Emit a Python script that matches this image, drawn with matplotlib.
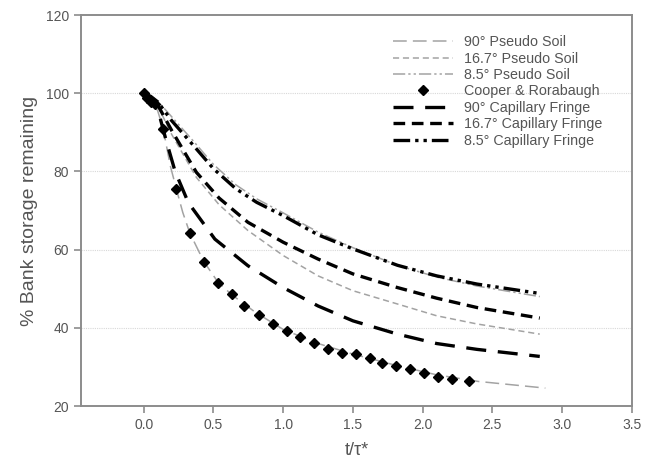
import matplotlib
matplotlib.use("Agg")
import matplotlib.pyplot as plt

plt.rcParams["font.family"] = ["Liberation Sans", "DejaVu Sans"]

# ---- data ----
x_ps90 = [0, 0.05, 0.1, 0.139, 0.19, 0.234, 0.28, 0.33, 0.43, 0.53, 0.63, 0.8,
          1.0, 1.25, 1.5, 1.8, 2.1, 2.4, 2.88]
y_ps90 = [100, 98.6, 95.5, 91, 81.5, 75.5, 69.5, 64.3, 57, 51.8, 48.5, 44,
          39.6, 36, 33.3, 30.5, 28, 26.3, 24.6]

x_cf90 = [0, 0.05, 0.1, 0.16, 0.225, 0.32, 0.51, 0.747, 1.0, 1.25, 1.5, 1.82,
          2.1, 2.39, 2.84]
y_cf90 = [100, 98.8, 96, 88, 80, 72, 62.7, 55.9, 50.3, 45.6, 41.8, 38.4,
          36.0, 34.5, 32.7]

x_cf167 = [0, 0.05, 0.1, 0.2, 0.377, 0.54, 0.747, 1.0, 1.25, 1.5, 1.82, 2.1,
           2.39, 2.84]
y_cf167 = [100, 99, 97, 90.5, 79.8, 73.2, 67, 61.9, 57.6, 53.8, 50.3, 47.6,
           45.2, 42.5]

x_ps167 = [0, 0.05, 0.1, 0.2, 0.377, 0.54, 0.747, 1.0, 1.25, 1.5, 1.82, 2.1,
           2.39, 2.84]
y_ps167 = [100, 99, 96.8, 89.5, 78.5, 71.5, 64.9, 58.5, 53.3, 49.5, 46.1, 43.1,
           41.0, 38.4]

x_cf85 = [0, 0.05, 0.1, 0.2, 0.355, 0.5, 0.66, 0.81, 1.0, 1.25, 1.5, 1.82, 2.1,
          2.39, 2.84]
y_cf85 = [100, 99.2, 97.8, 93, 86.7, 80.7, 75.6, 72.1, 68.7, 63.8, 60.2, 56,
          53.3, 51.2, 48.8]

x_ps85 = [0, 0.05, 0.1, 0.2, 0.355, 0.5, 0.66, 0.81, 1.0, 1.25, 1.5, 1.82, 2.1,
          2.39, 2.84]
y_ps85 = [100, 99.3, 98, 94, 87.8, 81.8, 76.6, 73, 69.4, 64.5, 60.5, 56,
          53, 50.7, 48.0]

x_cooper = [0, 0.024, 0.055, 0.08, 0.139, 0.234, 0.33, 0.43, 0.53, 0.63, 0.72,
            0.83, 0.93, 1.03, 1.12, 1.22, 1.32, 1.42, 1.52, 1.62, 1.71, 1.81,
            1.91, 2.01, 2.11, 2.21, 2.33]
y_cooper = [100, 98.8, 97.8, 97.2, 90.9, 75.6, 64.2, 56.8, 51.4, 48.6, 45.6,
            43.2, 40.9, 39.1, 37.6, 36.1, 34.6, 33.7, 33.3, 32.2, 31.1, 30.3,
            29.4, 28.5, 27.5, 27.0, 26.4]

GRAY = "#a3a3a3"
AXC = "#8c8c8c"
TXT = "#555555"

fig = plt.figure(figsize=(6.48, 4.70), dpi=100)
ax = fig.add_axes([0.125, 0.136, 0.850, 0.832])

ax.plot(x_ps90, y_ps90, color=GRAY, lw=1.1, dashes=(9, 4), label="90° Pseudo Soil")
ax.plot(x_ps167, y_ps167, color=GRAY, lw=1.1, dashes=(4, 2.5), label="16.7° Pseudo Soil")
ax.plot(x_ps85, y_ps85, color=GRAY, lw=1.1, dashes=(8, 2, 1.5, 2, 1.5, 2),
        label="8.5° Pseudo Soil")
ax.plot(x_cooper, y_cooper, ls="none", marker="D", ms=4.8, color="black",
        label="Cooper & Rorabaugh")
ax.plot(x_cf90, y_cf90, color="black", lw=2.4, dashes=(6, 3.5), label="90° Capillary Fringe")
ax.plot(x_cf167, y_cf167, color="black", lw=2.4, dashes=(3.5, 2),
        label="16.7° Capillary Fringe")
ax.plot(x_cf85, y_cf85, color="black", lw=2.4, dashes=(5, 1.5, 1, 1.5, 1, 1.5),
        label="8.5° Capillary Fringe")

ax.set_xlim(-0.45, 3.5)
ax.set_ylim(20, 120)
ax.set_xticks([0, 0.5, 1.0, 1.5, 2.0, 2.5, 3.0, 3.5])
ax.set_xticklabels(["0.0", "0.5", "1.0", "1.5", "2.0", "2.5", "3.0", "3.5"])
ax.set_yticks([20, 40, 60, 80, 100, 120])

for y in [40, 60, 80, 100]:
    ax.axhline(y, color="#d8d8d8", lw=0.8, ls=(0, (1, 1)), zorder=0)

for s in ax.spines.values():
    s.set_color(AXC)
    s.set_linewidth(1.4)
ax.tick_params(direction="out", length=5, width=1.2, color=AXC,
               labelcolor=TXT, labelsize=10)

ax.set_xlabel("t/τ*", color=TXT, fontsize=13, labelpad=7)
ax.set_ylabel("% Bank storage remaining", color=TXT, fontsize=14, labelpad=6)

leg = ax.legend(loc="upper left", bbox_to_anchor=(0.545, 0.978), frameon=False,
                fontsize=10.3, handlelength=4.2, handletextpad=0.8,
                labelspacing=0.17, borderpad=0.3)
for t in leg.get_texts():
    t.set_color(TXT)

fig.savefig("out.png", dpi=100)
